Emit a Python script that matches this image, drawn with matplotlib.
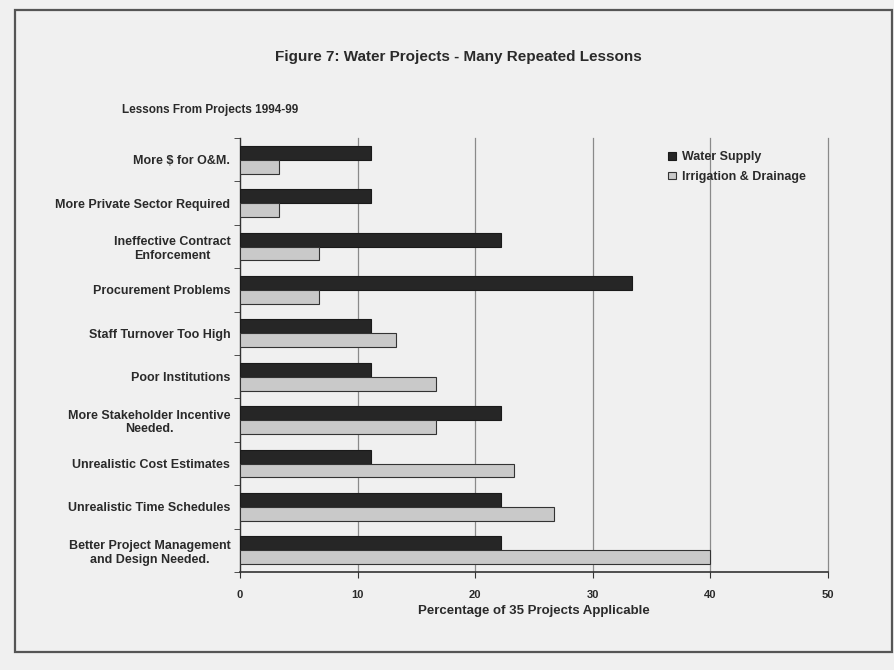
import matplotlib
matplotlib.use("Agg")
import matplotlib.pyplot as plt
import numpy as np
from matplotlib.patches import Rectangle

plt.rcParams['font.family'] = ['Liberation Sans', 'DejaVu Sans']

categories = [
    "More $ for O&M.",
    "More Private Sector Required",
    "Ineffective Contract\nEnforcement",
    "Procurement Problems",
    "Staff Turnover Too High",
    "Poor Institutions",
    "More Stakeholder Incentive\nNeeded.",
    "Unrealistic Cost Estimates",
    "Unrealistic Time Schedules",
    "Better Project Management\nand Design Needed.",
]
water_supply = [11.1, 11.1, 22.2, 33.3, 11.1, 11.1, 22.2, 11.1, 22.2, 22.2]
irrigation = [3.3, 3.3, 6.7, 6.7, 13.3, 16.7, 16.7, 23.3, 26.7, 40.0]
xticks = [0, 10, 20, 30, 40, 50]

bg = '#f0f0f0'
txt = '#2a2a2a'

fig = plt.figure(figsize=(8.95, 6.7), dpi=100, facecolor=bg)
# outer frame
fig.patches.append(Rectangle((15/895, 1-652/670), (892-15)/895, (652-10)/670,
                             transform=fig.transFigure, fill=False,
                             edgecolor='#555555', linewidth=1.6))

ax = fig.add_axes([240/895, 1-572/670, (828-240)/895, (572-138)/670])
ax.set_facecolor(bg)

n = len(categories)
y = np.arange(n)
h = 0.32
ax.barh(y - h/2, water_supply, height=h, color='#262626', edgecolor='#1a1a1a',
        linewidth=0.8, label='Water Supply', zorder=3)
ax.barh(y + h/2, irrigation, height=h, color='#c9c9c9', edgecolor='#333333',
        linewidth=0.8, label='Irrigation & Drainage', zorder=3)

ax.set_xlim(0, 50)
ax.set_ylim(n - 0.5, -0.5)
ax.set_xticks(xticks)
ax.set_xticklabels([str(t) for t in xticks], fontsize=8, fontweight='bold', color=txt)
for t in xticks[1:]:
    ax.axvline(t, color='#8a8a8a', linewidth=0.9, zorder=0, clip_on=False)
ax.set_yticks(y)
ax.set_yticklabels(categories, fontsize=9, fontweight='bold', color=txt,
                   ha='right', multialignment='center')
ax.tick_params(axis='y', length=0, pad=7)
ax.set_yticks(np.arange(n + 1) - 0.5, minor=True)
ax.tick_params(axis='y', which='minor', length=4, direction='out', color='#333333')
ax.tick_params(axis='x', length=4, color='#333333', pad=9)
for s in ['top', 'right']:
    ax.spines[s].set_visible(False)
ax.spines['left'].set_color('#333333')
ax.spines['bottom'].set_color('#333333')
ax.spines['left'].set_linewidth(1.0)
ax.spines['bottom'].set_linewidth(1.2)

ax.set_xlabel("Percentage of 35 Projects Applicable", fontsize=9.5,
              fontweight='bold', color=txt)
ax.xaxis.set_label_coords(0.5, -(605-572)/(572-138))

leg = ax.legend(loc='upper left', bbox_to_anchor=((657-240)/(828-240), 0.995),
                frameon=False, handlelength=0.6, handleheight=0.6,
                handletextpad=0.5, labelspacing=0.6, prop={'weight': 'bold', 'size': 9})
for t in leg.get_texts():
    t.set_color(txt)

fig.text(458/895, 1-57/670, "Figure 7: Water Projects - Many Repeated Lessons",
         ha='center', va='center', fontsize=11, fontweight='bold', color=txt)
fig.text(122/895, 1-110/670, "Lessons From Projects 1994-99",
         ha='left', va='center', fontsize=8.5, fontweight='bold', color=txt)

fig.savefig('out.png', dpi=100, facecolor=bg)
